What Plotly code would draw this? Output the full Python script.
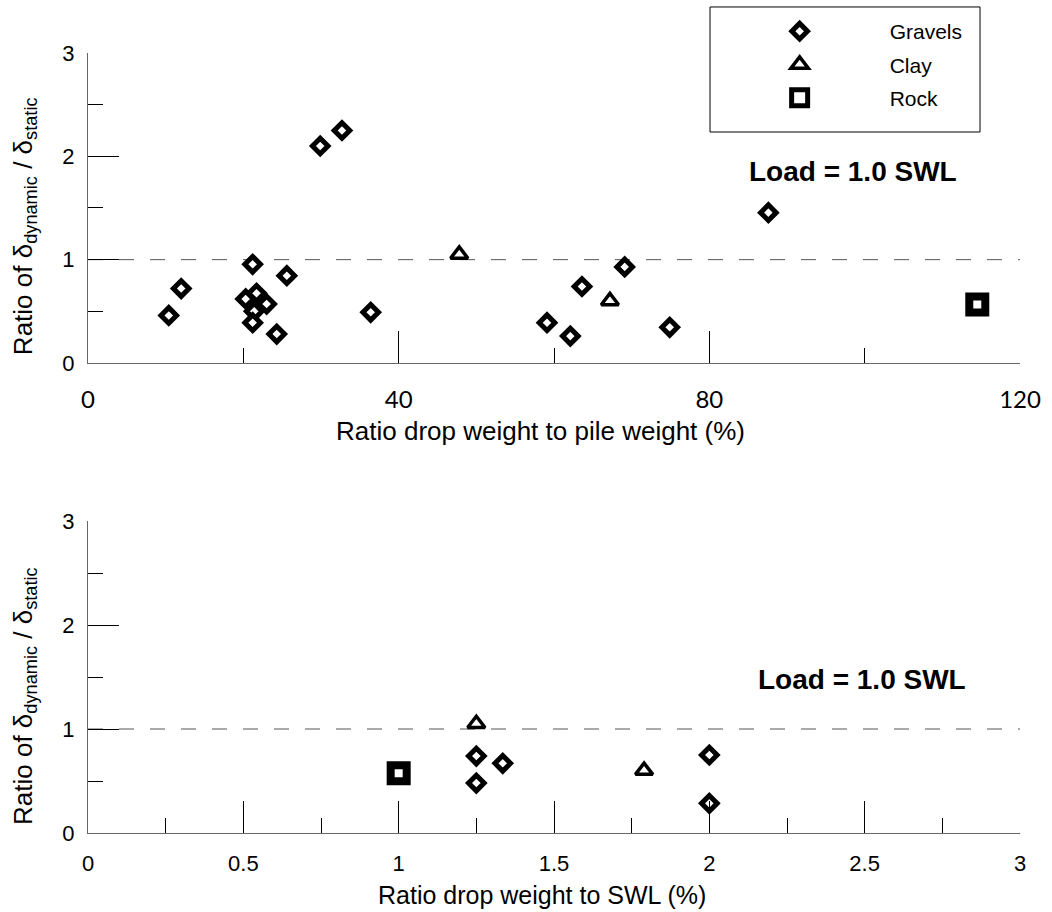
import plotly.graph_objects as go

# ---- data (top: vs drop weight / pile weight %) ----
gravel_pile_x = [10.4, 12.0, 29.9, 32.7, 21.2, 25.6, 20.3, 21.7, 23.0, 21.4, 21.2, 24.3, 36.4,
                 69.1, 63.6, 59.1, 62.1, 74.9, 87.6]
gravel_pile_y = [0.46, 0.72, 2.10, 2.25, 0.955, 0.845, 0.62, 0.675, 0.57, 0.50, 0.39, 0.28, 0.49,
                 0.93, 0.74, 0.39, 0.26, 0.345, 1.455]
clay_pile_x = [47.8, 67.2]
clay_pile_y = [1.05, 0.60]
rock_pile_x = [114.5]
rock_pile_y = [0.565]

# ---- data (bottom: vs drop weight / SWL %) ----
gravel_swl_x = [1.25, 1.25, 1.335, 2.0, 2.0]
gravel_swl_y = [0.74, 0.48, 0.67, 0.75, 0.285]
clay_swl_x = [1.25, 1.79]
clay_swl_y = [1.05, 0.60]
rock_swl_x = [1.0]
rock_swl_y = [0.575]

ref_level = 1.0
top_xrange = [0, 120]
bot_xrange = [0, 3]
yrange = [0, 3]

ARIAL = "Arial, Liberation Sans, sans-serif"
CALI = "Lato, Carlito, sans-serif"

gstyle = dict(symbol="diamond", size=12, color="white", line=dict(color="black", width=5))
cstyle = dict(symbol="triangle-up", size=15, color="white", line=dict(color="black", width=3.5))
rstyle = dict(symbol="square", size=16, color="white", line=dict(color="black", width=8))

fig = go.Figure()

# reference dashed lines
fig.add_trace(go.Scatter(x=top_xrange, y=[ref_level, ref_level], mode="lines",
                         line=dict(color="#555555", width=1, dash="15px,16px"),
                         showlegend=False, hoverinfo="skip", xaxis="x", yaxis="y"))
fig.add_trace(go.Scatter(x=bot_xrange, y=[ref_level, ref_level], mode="lines",
                         line=dict(color="#555555", width=1, dash="15px,16px"),
                         showlegend=False, hoverinfo="skip", xaxis="x2", yaxis="y2"))

fig.add_trace(go.Scatter(x=gravel_pile_x, y=gravel_pile_y, mode="markers", name="Gravels",
                         marker=gstyle, legendgroup="g", xaxis="x", yaxis="y"))
fig.add_trace(go.Scatter(x=clay_pile_x, y=clay_pile_y, mode="markers", name="Clay",
                         marker=cstyle, legendgroup="c", xaxis="x", yaxis="y"))
fig.add_trace(go.Scatter(x=rock_pile_x, y=rock_pile_y, mode="markers", name="Rock",
                         marker=rstyle, legendgroup="r", xaxis="x", yaxis="y"))

fig.add_trace(go.Scatter(x=gravel_swl_x, y=gravel_swl_y, mode="markers", name="Gravels",
                         marker=gstyle, showlegend=False, xaxis="x2", yaxis="y2"))
fig.add_trace(go.Scatter(x=clay_swl_x, y=clay_swl_y, mode="markers", name="Clay",
                         marker=cstyle, showlegend=False, xaxis="x2", yaxis="y2"))
fig.add_trace(go.Scatter(x=rock_swl_x, y=rock_swl_y, mode="markers", name="Rock",
                         marker=rstyle, showlegend=False, xaxis="x2", yaxis="y2"))

ytitle = "Ratio of δ<sub>dynamic</sub> / δ<sub>static</sub>"

def xaxis(rng, dtick, mdtick, anchor, tfont, tsize, standoff):
    return dict(range=rng, dtick=dtick, tick0=0, anchor=anchor, domain=[0, 1],
                showgrid=False, zeroline=False, showline=True, linecolor="#666666", linewidth=1,
                ticks="inside", ticklen=32, tickwidth=1, tickcolor="black",
                minor=dict(ticks="inside", ticklen=15, dtick=mdtick, tick0=0, tickcolor="black",
                           tickwidth=1, showgrid=False),
                tickfont=dict(family=tfont, size=tsize, color="black"),
                ticklabelstandoff=standoff, fixedrange=True)

def yaxis(domain, anchor):
    return dict(range=yrange, dtick=1, tick0=0, domain=domain, anchor=anchor,
                showgrid=False, zeroline=False, showline=True, linecolor="#666666", linewidth=1,
                ticks="inside", ticklen=31, tickwidth=1, tickcolor="black",
                minor=dict(ticks="inside", ticklen=15, dtick=0.5, tick0=0, tickcolor="black",
                           tickwidth=1, showgrid=False),
                tickfont=dict(family=ARIAL, size=22, color="black"),
                ticklabelstandoff=8, fixedrange=True)

title_font = dict(family=ARIAL, size=26, color="black")
load_font = dict(family=ARIAL, size=28, color="black")

fig.update_layout(
    width=1052, height=912,
    margin=dict(l=88, r=32, t=53, b=79, autoexpand=False),
    paper_bgcolor="white", plot_bgcolor="white",
    font=dict(family=ARIAL, color="black"),
    xaxis=xaxis(top_xrange, 40, 20, "y", CALI, 24, 15),
    yaxis=yaxis([0.6026, 1.0], "x"),
    xaxis2=xaxis(bot_xrange, 0.5, 0.25, "y2", ARIAL, 22, 11),
    yaxis2=yaxis([0.0, 0.4], "x2"),
    legend=dict(x=0.667, y=1.0538, xanchor="left", yanchor="top",
                borderwidth=0, bgcolor="rgba(0,0,0,0)",
                font=dict(family=ARIAL, size=21, color="black"),
                itemwidth=170, tracegroupgap=3, traceorder="grouped"),
    shapes=[
        dict(type="rect", xref="paper", yref="paper", x0=0.6674, x1=0.9571, y0=0.8987, y1=1.059,
             line=dict(color="black", width=1), fillcolor="white", layer="above"),
    ],
    annotations=[
        dict(x=0.485, y=0.5154, xref="paper", yref="paper", text="Ratio drop weight to pile weight (%)",
             showarrow=False, font=title_font, xanchor="center", yanchor="middle"),
        dict(x=0.487, y=-0.0795, xref="paper", yref="paper", text="Ratio drop weight to SWL (%)",
             showarrow=False, font=dict(family=ARIAL, size=25, color="black"),
             xanchor="center", yanchor="middle"),
        dict(x=-0.0687, y=0.778, xref="paper", yref="paper", text=ytitle, textangle=-90,
             showarrow=False, font=title_font, xanchor="center", yanchor="middle"),
        dict(x=-0.0687, y=0.1756, xref="paper", yref="paper", text=ytitle, textangle=-90,
             showarrow=False, font=title_font, xanchor="center", yanchor="middle"),
        dict(x=98.5, y=1.85, xref="x", yref="y", text="<b>Load = 1.0 SWL</b>", showarrow=False,
             font=load_font),
        dict(x=2.49, y=1.48, xref="x2", yref="y2", text="<b>Load = 1.0 SWL</b>", showarrow=False,
             font=load_font),
    ],
)

fig.write_html("out.html")
